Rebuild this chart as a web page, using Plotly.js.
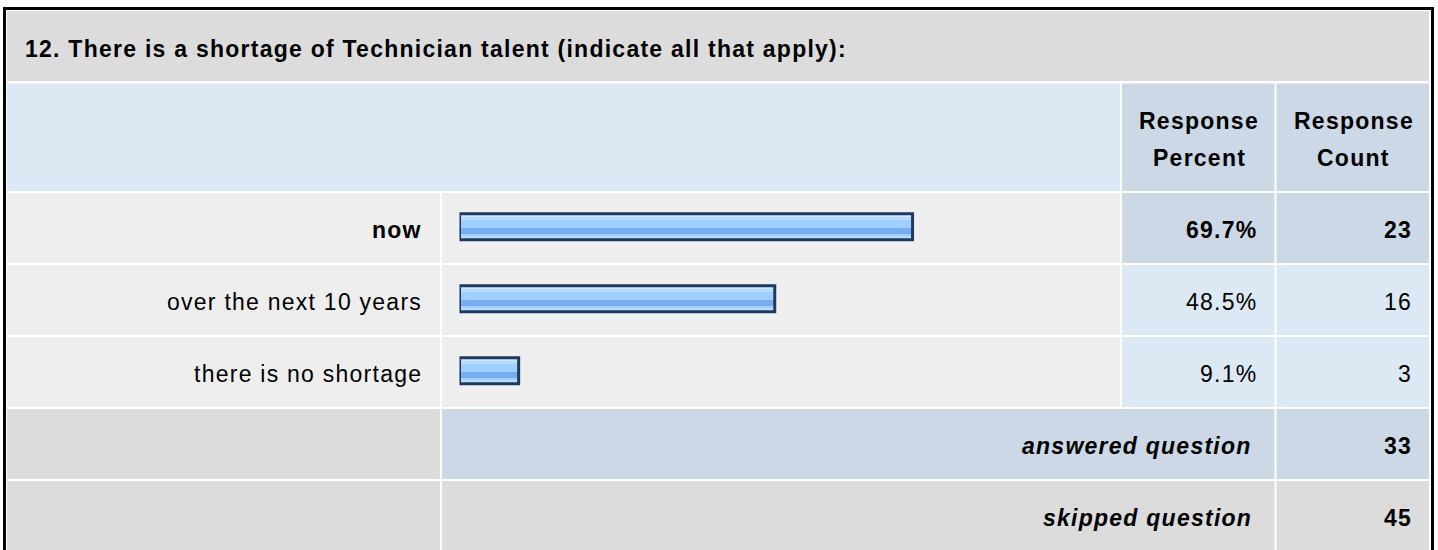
<!DOCTYPE html>
<html>
<head>
<meta charset="utf-8">
<script src="https://cdn.plot.ly/plotly-3.0.1.min.js"></script>
<style>
  html, body { margin: 0; padding: 0; background: #ffffff; }
  svg text { letter-spacing: 1.25px; }
</style>
</head>
<body>
<div id="chart" style="width:1438px;height:550px;"></div>
<script>
// ---- data ----
const questionTitle = "12. There is a shortage of Technician talent (indicate all that apply):";
const answerChoices = ["now", "over the next 10 years", "there is no shortage"];
const responsePercent = [69.7, 48.5, 9.1];
const responseCount = [23, 16, 3];
const headerPercent = ["Response", "Percent"];
const headerCount = ["Response", "Count"];
const answeredLabel = "answered question";
const skippedLabel = "skipped question";
const answeredCount = 33;
const skippedCount = 45;

// ---- layout helpers (pixel -> paper) ----
const W = 1438, H = 550;
const px = x => x / W;
const py = y => 1 - y / H;
const FONT = "Liberation Sans, Arial, Helvetica, sans-serif";
const FS = 23;

function cell(x0, y0, x1, y1, color) {
  return { type: "rect", xref: "paper", yref: "paper", layer: "below",
    x0: px(x0), x1: px(x1), y0: py(y1), y1: py(y0),
    fillcolor: color, line: { width: 0 } };
}

const GRAY = "#dcdcdc", ROW = "#eeeeee", LBLUE = "#dde8f5", DBLUE = "#cdd8e6";
const colA = [7, 440], colB = [442, 1120], colC = [1122, 1274.5], colD = [1276.5, 1429];
const rowTop = [193, 265, 337];
const rowH = 70;
const maxIdx = responsePercent.indexOf(Math.max(...responsePercent));

const shapes = [];
shapes.push(cell(7, 11, 1429, 81, GRAY));
shapes.push(cell(colA[0], 83.5, colB[1], 191, LBLUE));
shapes.push(cell(colC[0], 83.5, colC[1], 191, DBLUE));
shapes.push(cell(colD[0], 83.5, colD[1], 191, DBLUE));
rowTop.forEach((t, i) => {
  const vc = i === maxIdx ? DBLUE : LBLUE;
  shapes.push(cell(colA[0], t, colA[1], t + rowH, ROW));
  shapes.push(cell(colB[0], t, colB[1], t + rowH, ROW));
  shapes.push(cell(colC[0], t, colC[1], t + rowH, vc));
  shapes.push(cell(colD[0], t, colD[1], t + rowH, vc));
});
shapes.push(cell(colA[0], 409, colA[1], 479, GRAY));
shapes.push(cell(colB[0], 409, colC[1], 479, DBLUE));
shapes.push(cell(colD[0], 409, colD[1], 479, DBLUE));
shapes.push(cell(colA[0], 481, colA[1], 552, GRAY));
shapes.push(cell(colB[0], 481, colC[1], 552, GRAY));
shapes.push(cell(colD[0], 481, colD[1], 552, GRAY));
shapes.push({ type: "rect", xref: "paper", yref: "paper", layer: "above",
  x0: px(4.5), x1: px(1432.5), y0: py(565), y1: py(8.5),
  fillcolor: "rgba(0,0,0,0)", line: { color: "#000000", width: 3 } });

// ---- annotations ----
const ann = [];
function txt(text, x, y, xanchor, opts) {
  opts = opts || {};
  return Object.assign({
    text: text, x: x, y: y, xref: "paper", yref: "paper",
    xanchor: xanchor, yanchor: "middle", showarrow: false,
    font: { family: FONT, size: FS, color: "#000000", weight: opts.bold ? "bold" : "normal",
            style: opts.italic ? "italic" : "normal" }
  }, opts.extra || {});
}
ann.push(txt(questionTitle, px(23), py(49.5), "left", { bold: true }));
ann.push(txt(headerPercent[0], px((colC[0] + colC[1]) / 2 + 1), py(121), "center", { bold: true }));
ann.push(txt(headerPercent[1], px((colC[0] + colC[1]) / 2 + 1), py(157.5), "center", { bold: true }));
ann.push(txt(headerCount[0], px((colD[0] + colD[1]) / 2 + 1), py(121), "center", { bold: true }));
ann.push(txt(headerCount[1], px((colD[0] + colD[1]) / 2 + 1), py(157.5), "center", { bold: true }));

answerChoices.forEach((lab, i) => {
  const b = i === maxIdx;
  ann.push(txt(lab, px(423.5), i, "right", { bold: b, extra: { yref: "y", yshift: -2 } }));
  ann.push(txt(responsePercent[i].toFixed(1) + "%", px(1258.5), i, "right", { bold: b, extra: { yref: "y", yshift: -2 } }));
  ann.push(txt(String(responseCount[i]), px(1413.5), i, "right", { bold: b, extra: { yref: "y", yshift: -2 } }));
});
ann.push(txt(answeredLabel, px(1253.5), py(445.5), "right", { bold: true, italic: true }));
ann.push(txt(String(answeredCount), px(1413.5), py(445.5), "right", { bold: true }));
ann.push(txt(skippedLabel, px(1253.5), py(517.5), "right", { bold: true, italic: true }));
ann.push(txt(String(skippedCount), px(1413.5), py(517.5), "right", { bold: true }));

// ---- bars (glossy stripes built from overlaid bars) ----
const P = 72; // pixels per category
const cOff = -1.3; // bar centre relative to row centre (px)
function band(top, bot, color, line) {
  return {
    type: "bar", orientation: "h", x: responsePercent, y: answerChoices,
    base: 0, offset: (top + cOff) / P, width: (bot - top) / P,
    marker: { color: color, line: line || { width: 0 } },
    hoverinfo: "skip", showlegend: false
  };
}
const traces = [
  band(-13, 13, "#9fcfff"),
  band(-13, -9.2, "#d0e8ff"),
  band(-9.2, -6.8, "#b8dcff"),
  band(1.2, 7.2, "#78acf0"),
  band(9.2, 13, "#b8dcff"),
  band(-13, 13, "rgba(0,0,0,0)", { color: "#1f3a61", width: 3 })
];

const layout = {
  width: W, height: H, autosize: false,
  margin: { l: 0, r: 0, t: 0, b: 0, pad: 0 },
  paper_bgcolor: "#ffffff", plot_bgcolor: "rgba(0,0,0,0)",
  barmode: "overlay", showlegend: false, hovermode: false,
  xaxis: { domain: [px(459.5), px(1109.5)], range: [0, 100], visible: false, fixedrange: true },
  yaxis: { domain: [py(408), py(192)], type: "category", categoryorder: "array",
           categoryarray: answerChoices, range: [2.5, -0.5], visible: false, fixedrange: true },
  shapes: shapes, annotations: ann
};

Plotly.newPlot("chart", traces, layout, { displayModeBar: false, staticPlot: true });
</script>
</body>
</html>
